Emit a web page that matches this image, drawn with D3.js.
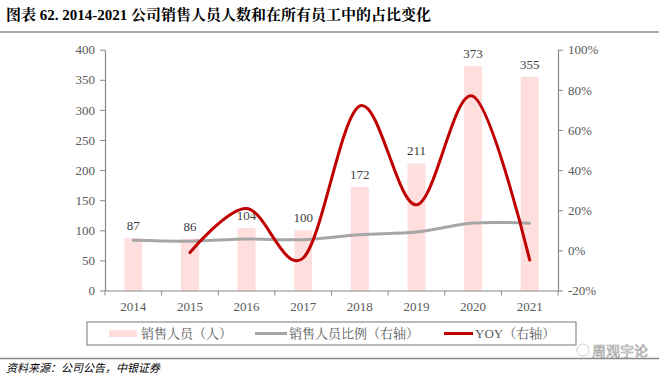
<!DOCTYPE html>
<html><head><meta charset="utf-8">
<script src="https://cdn.jsdelivr.net/npm/d3@7/dist/d3.min.js"></script>
<style>
body{margin:0;background:#fff;}
svg{display:block;}
</style></head>
<body>
<svg id="c" width="659" height="378"></svg>
<script>
const years = ["2014","2015","2016","2017","2018","2019","2020","2021"];
const staff = [87, 86, 104, 100, 172, 211, 373, 355];
const ratio = [5.0, 4.6, 5.7, 5.3, 7.8, 9.1, 13.6, 13.5];
const yoy = [null, -1.1, 20.9, -3.8, 72.0, 22.7, 76.8, -4.8];
const leftTicks = [0, 50, 100, 150, 200, 250, 300, 350, 400];
const rightTicks = [-20, 0, 20, 40, 60, 80, 100];
const legendLabels = ["销售人员（人）", "销售人员比例（右轴）", "YOY（右轴）"];
const titleText = "图表 62. 2014-2021 公司销售人员人数和在所有员工中的占比变化";
const sourceText = "资料来源：公司公告，中银证券";

const svg = d3.select("#c");
const serif = "'Liberation Serif','Times New Roman',serif";
const cjk = "'Noto Sans CJK SC','Noto Serif CJK SC',sans-serif";

const L = 105, R = 558, T = 49.7, B = 290.5;
const x = d3.scaleBand().domain(years).range([L, R]);
const yL = d3.scaleLinear().domain([0, 400]).range([B, T]);
const yR = d3.scaleLinear().domain([-20, 100]).range([B, T]);

// title
svg.append("text").attr("x", 6).attr("y", 20)
  .style("font-family", "'Liberation Serif','Noto Serif CJK SC'," + cjk)
  .style("font-weight", "bold").style("font-size", "15px").attr("fill", "#000")
  .text(titleText);
svg.append("line").attr("x1", 0).attr("x2", 659).attr("y1", 32).attr("y2", 32)
  .attr("stroke", "#555").attr("stroke-width", 1.2);

// bars
const bw = 18;
svg.append("g").selectAll("rect").data(staff).join("rect")
  .attr("x", (d, i) => x(years[i]) + x.bandwidth() / 2 - bw / 2)
  .attr("y", d => yL(d)).attr("width", bw).attr("height", d => B - yL(d))
  .attr("fill", "#FFDEDE");

// bar labels
svg.append("g").selectAll("text").data(staff).join("text")
  .attr("x", (d, i) => x(years[i]) + x.bandwidth() / 2)
  .attr("y", d => yL(d) - 8)
  .attr("text-anchor", "middle")
  .style("font-family", serif).style("font-size", "13px").attr("fill", "#404040")
  .text(d => d);

// left axis
const axL = d3.axisLeft(yL).tickValues(leftTicks).tickSize(5).tickSizeOuter(0);
const gL = svg.append("g").attr("transform", `translate(${L},0)`).call(axL);
// right axis
const axR = d3.axisRight(yR).tickValues(rightTicks).tickSize(5).tickSizeOuter(0).tickFormat(d => d + "%");
const gR = svg.append("g").attr("transform", `translate(${R},0)`).call(axR);
// bottom axis
const axB = d3.axisBottom(x).tickSize(0);
const gB = svg.append("g").attr("transform", `translate(0,${B})`).call(axB);
gB.selectAll(".tick line").remove();
// boundary ticks
svg.append("g").selectAll("line").data(d3.range(years.length + 1)).join("line")
  .attr("x1", i => L + i * x.step()).attr("x2", i => L + i * x.step())
  .attr("y1", B).attr("y2", B + 5).attr("stroke", "#888").attr("stroke-width", 1);

[gL, gR, gB].forEach(g => {
  g.select(".domain").attr("stroke", "#888").attr("stroke-width", 1.2);
  g.selectAll(".tick line").attr("stroke", "#888");
  g.selectAll("text").style("font-family", serif).style("font-size", "13px").attr("fill", "#595959");
});
gL.selectAll("text").attr("x", -10);
gR.selectAll("text").attr("x", 10);
gB.selectAll("text").attr("dy", "0").attr("y", 20);

// ratio line
const cx = i => x(years[i]) + x.bandwidth() / 2;
const lineR = d3.line().x((d, i) => cx(i)).y(d => yR(d)).curve(d3.curveCatmullRom.alpha(0));
svg.append("path").datum(ratio).attr("d", lineR)
  .attr("fill", "none").attr("stroke", "#A6A6A6").attr("stroke-width", 3).attr("stroke-linecap", "round");

// yoy line
const yoyPts = yoy.map((d, i) => [i, d]).filter(p => p[1] !== null);
const lineY = d3.line().x(p => cx(p[0])).y(p => yR(p[1])).curve(d3.curveCatmullRom.alpha(0));
svg.append("path").datum(yoyPts).attr("d", lineY)
  .attr("fill", "none").attr("stroke", "#C00000").attr("stroke-width", 3).attr("stroke-linecap", "round");

// legend
svg.append("rect").attr("x", 87).attr("y", 322).attr("width", 489).attr("height", 23)
  .attr("fill", "#fff").attr("stroke", "#777").attr("stroke-width", 1);
const lg = svg.append("g");
const ly = 333.5;
lg.append("rect").attr("x", 109).attr("y", ly - 3.5).attr("width", 28).attr("height", 7).attr("fill", "#FFDEDE");
lg.append("line").attr("x1", 255).attr("x2", 287).attr("y1", ly).attr("y2", ly).attr("stroke", "#A6A6A6").attr("stroke-width", 3);
lg.append("line").attr("x1", 444).attr("x2", 473).attr("y1", ly).attr("y2", ly).attr("stroke", "#C00000").attr("stroke-width", 3);
const lx = [141, 289, 475];
lg.selectAll("text").data(legendLabels).join("text")
  .attr("x", (d, i) => lx[i]).attr("y", ly + 4.5)
  .style("font-family", "'Liberation Serif','Noto Serif CJK SC'," + cjk).style("font-size", "13px").attr("fill", "#595959")
  .text(d => d);

// watermark
svg.append("circle").attr("cx", 583).attr("cy", 350).attr("r", 6).attr("fill", "none").attr("stroke", "#ccc").attr("stroke-width", 1);
svg.append("text").attr("x", 592).attr("y", 356)
  .style("font-family", cjk).style("font-size", "14px")
  .attr("fill", "#fff").attr("stroke", "#999").attr("stroke-width", 0.6)
  .text("周观宇论");

// bottom rule and source
svg.append("line").attr("x1", 0).attr("x2", 659).attr("y1", 358.5).attr("y2", 358.5)
  .attr("stroke", "#888").attr("stroke-width", 1.5);
svg.append("text").attr("x", 6).attr("y", 372)
  .style("font-family", cjk).style("font-size", "11px").style("font-style", "italic").attr("fill", "#000")
  .text(sourceText);
</script>
</body></html>
